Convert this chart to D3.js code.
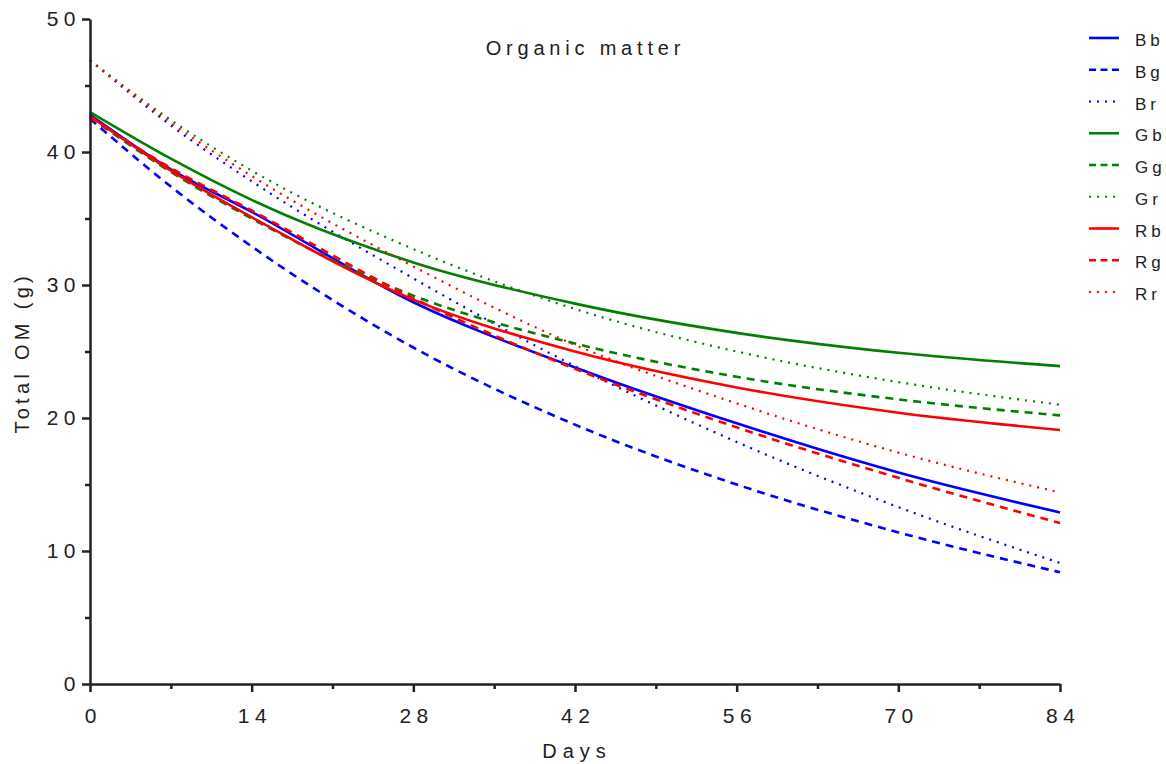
<!DOCTYPE html>
<html>
<head>
<meta charset="utf-8">
<script src="https://cdn.jsdelivr.net/npm/d3@7"></script>
<style>
  body { margin: 0; background: #fff; }
  text { font-family: Arial, "Liberation Sans", sans-serif; fill: #222; }
</style>
</head>
<body>
<div id="chart"></div>
<script>
// days
const days = [0, 7, 14, 28, 42, 56, 70, 84]

// Total OM (g) per series, read at the days above
const Bb = [42.8, 38.7, 35.5, 28.7, 23.8, 19.6, 15.9, 12.9]
const Bg = [42.5, 37.4, 32.9, 25.3, 19.5, 15.0, 11.4, 8.4]
const Br = [46.9, 42.0, 37.8, 30.5, 23.9, 18.2, 13.3, 9.1]
const Gb = [43.0, 39.5, 36.4, 31.7, 28.6, 26.4, 24.9, 23.9]
const Gg = [42.6, 38.5, 35.0, 29.2, 25.6, 23.1, 21.4, 20.2]
const Gr = [46.9, 42.4, 38.6, 32.7, 28.2, 25.0, 22.7, 21.0]
const Rb = [42.7, 38.6, 35.1, 28.9, 25.0, 22.3, 20.4, 19.1]
const Rg = [42.6, 38.8, 35.6, 29.0, 23.7, 19.3, 15.5, 12.1]
const Rr = [46.9, 42.2, 38.2, 31.4, 25.5, 21.1, 17.4, 14.4]

const seriesNames = ['Bb', 'Bg', 'Br', 'Gb', 'Gg', 'Gr', 'Rb', 'Rg', 'Rr']
const seriesValues = [Bb, Bg, Br, Gb, Gg, Gr, Rb, Rg, Rr]

const xTicks = [0, 14, 28, 42, 56, 70, 84]
const yTicks = [0, 10, 20, 30, 40, 50]

// chart setup
const width = 1166
const height = 764
const plotLeft = 90, plotRight = 1060, plotTop = 19, plotBottom = 684

const colors = { B: '#0000ff', G: '#008000', R: '#ff0000' }
const dashes = { b: null, g: '8,6', r: '2,6' }

const svg = d3.select('#chart').append('svg')
  .attr('width', width)
  .attr('height', height)

const x = d3.scaleLinear().domain([0, 84]).range([plotLeft, plotRight])
const y = d3.scaleLinear().domain([0, 50]).range([plotBottom, plotTop])

// lines
const line = d3.line()
  .x(d => x(d[0]))
  .y(d => y(d[1]))
  .curve(d3.curveMonotoneX)

seriesNames.forEach((name, i) => {
  const pts = days.map((d, j) => [d, seriesValues[i][j]])
  svg.append('path')
    .attr('d', line(pts))
    .attr('fill', 'none')
    .attr('stroke', colors[name[0]])
    .attr('stroke-width', name[1] === 'r' ? 2.2 : 2.6)
    .attr('stroke-dasharray', dashes[name[1]])
})

// axes
const axisColor = '#222'
const xAxis = svg.append('g')
  .attr('transform', `translate(0,${plotBottom})`)
  .call(d3.axisBottom(x).tickValues(xTicks).tickSize(8).tickSizeOuter(0).tickPadding(16))
xAxis.append('g')
  .call(d3.axisBottom(x).tickValues([7, 21, 35, 49, 63, 77]).tickSize(5).tickFormat(''))
  .select('.domain').remove()

const yAxis = svg.append('g')
  .attr('transform', `translate(${plotLeft},0)`)
  .call(d3.axisLeft(y).tickValues(yTicks).tickSize(8).tickSizeOuter(0).tickPadding(1))
yAxis.append('g')
  .call(d3.axisLeft(y).tickValues([5, 15, 25, 35, 45]).tickSize(5).tickFormat(''))
  .select('.domain').remove()

svg.selectAll('.domain').attr('stroke', axisColor).attr('stroke-width', 2.5)
svg.selectAll('.tick line').attr('stroke', axisColor).attr('stroke-width', 2.5)
svg.selectAll('.tick text')
  .style('font-size', '21px')
  .style('letter-spacing', '5.5px')
  .attr('fill', axisColor)
xAxis.selectAll('.tick text').attr('dx', '2.75px')

// titles
svg.append('text')
  .attr('x', 583).attr('y', 55)
  .attr('dx', '2.4px')
  .attr('text-anchor', 'middle')
  .style('font-size', '20px')
  .style('letter-spacing', '4.8px')
  .text('Organic matter')

svg.append('text')
  .attr('transform', 'translate(29,355) rotate(-90)')
  .attr('dx', '2.2px')
  .attr('text-anchor', 'middle')
  .style('font-size', '20px')
  .style('letter-spacing', '4.3px')
  .text('Total OM (g)')

svg.append('text')
  .attr('x', 574).attr('y', 758)
  .attr('dx', '3px')
  .attr('text-anchor', 'middle')
  .style('font-size', '20px')
  .style('letter-spacing', '6px')
  .text('Days')

// legend
const legend = svg.append('g')
const rowY = d3.scaleLinear().domain([0, 8]).range([38, 292])
seriesNames.forEach((name, i) => {
  const g = legend.append('g').attr('transform', `translate(0,${rowY(i)})`)
  g.append('line')
    .attr('x1', 1089).attr('x2', 1119)
    .attr('stroke', colors[name[0]])
    .attr('stroke-width', name[1] === 'r' ? 2.2 : 2.6)
    .attr('stroke-dasharray', name[1] === 'g' ? '7,4.5' : dashes[name[1]])
  g.append('text')
    .attr('x', 1135).attr('y', 8)
    .style('font-size', '17px')
    .style('letter-spacing', '4px')
    .text(name)
})
</script>
</body>
</html>
